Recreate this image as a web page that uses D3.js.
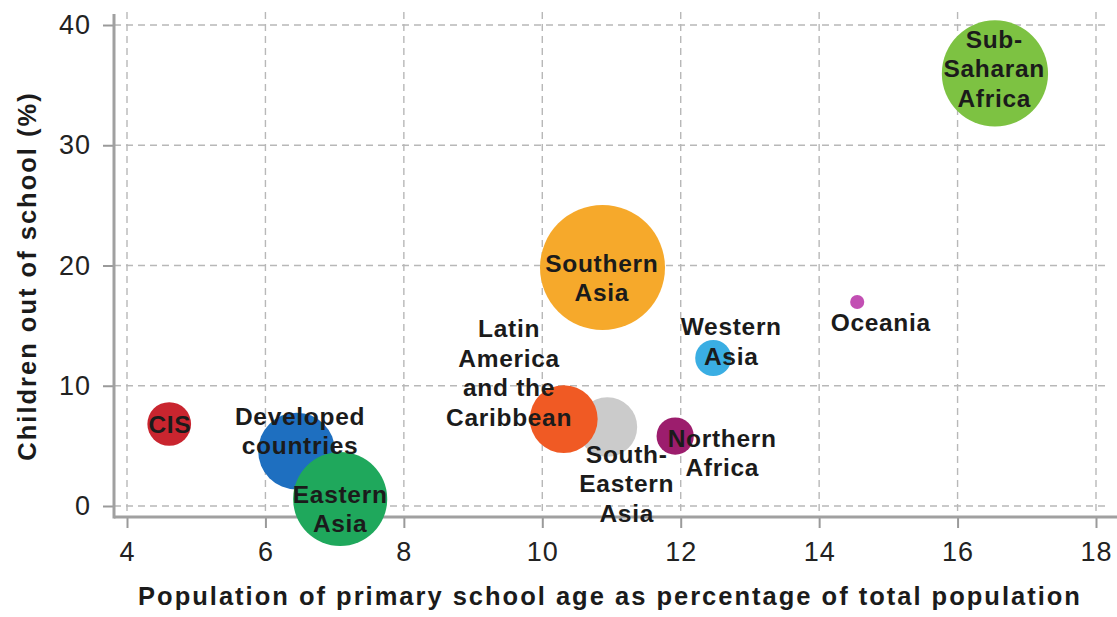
<!DOCTYPE html>
<html>
<head>
<meta charset="utf-8">
<script src="https://cdn.jsdelivr.net/npm/d3@7"></script>
<style>
  body { margin: 0; background: #fff; }
  text { font-family: "Liberation Sans", Arial, sans-serif; }
</style>
</head>
<body>
<div id="chart"></div>
<script>
// data (drawing order: back to front)
var regions = ["Sub-Saharan Africa", "Southern Asia", "CIS", "Developed countries", "Eastern Asia",
  "South-Eastern Asia", "Latin America and the Caribbean", "Western Asia", "Northern Africa", "Oceania"];
var popShare = [16.54, 10.87, 4.61, 6.45, 7.08, 10.94, 10.31, 12.47, 11.92, 14.55];   // x
var outOfSchool = [35.97, 19.83, 6.82, 4.57, 0.58, 6.57, 7.23, 12.31, 5.82, 16.96];  // y
var schoolAgePop = [130, 180, 22, 68, 102, 41, 53, 15, 16, 2.3];                    // bubble size
var colors = ["#7dc242", "#f6a92b", "#c9252f", "#1e6fc0", "#1fa85c",
  "#cbcbcb", "#f05a24", "#3aaee3", "#9c1d6d", "#c24fb3"];
var labelLines = [["Sub-", "Saharan", "Africa"], ["Southern", "Asia"], ["CIS"], ["Developed", "countries"],
  ["Eastern", "Asia"], ["South-", "Eastern", "Asia"], ["Latin", "America", "and the", "Caribbean"],
  ["Western", "Asia"], ["Northern", "Africa"], ["Oceania"]];
// where each label's first line sits, in data units
var labelX = [16.53, 10.86, 4.62, 6.50, 7.08, 11.22, 9.52, 12.73, 12.60, 14.89];
var labelY = [38.09, 19.46, 6.07, 6.74, 0.25, 3.58, 14.05, 14.22, 4.91, 14.55];
var xTicks = [4, 6, 8, 10, 12, 14, 16, 18];
var yTicks = [0, 10, 20, 30, 40];

var svgWidth = 1117;
var svgHeight = 617;
var axisX = 114, axisY = 517;

var svg = d3.select("#chart")
  .append("svg")
  .attr("width", svgWidth)
  .attr("height", svgHeight);

var x = d3.scaleLinear().domain([4, 18]).range([127, 1096]);
var y = d3.scaleLinear().domain([0, 40]).range([506, 25]);
var r = d3.scaleSqrt().domain([0, 180]).range([0, 62.5]);

// grid
var grid = svg.append("g").attr("stroke", "#b8b8b8").attr("stroke-width", 1.4)
  .attr("stroke-dasharray", "7,5");
grid.selectAll(".vg").data(xTicks).enter().append("line")
  .attr("x1", d => x(d)).attr("x2", d => x(d))
  .attr("y1", 12).attr("y2", axisY);
grid.selectAll(".hg").data(yTicks).enter().append("line")
  .attr("x1", axisX).attr("x2", 1110)
  .attr("y1", d => y(d)).attr("y2", d => y(d));

// axes
var bottomAxis = d3.axisBottom(x).tickValues(xTicks).tickSize(11).tickPadding(14);
var leftAxis = d3.axisLeft(y).tickValues(yTicks).tickSize(11).tickPadding(12);

var gx = svg.append("g").attr("transform", `translate(0, ${axisY})`).call(bottomAxis);
var gy = svg.append("g").attr("transform", `translate(${axisX}, 0)`).call(leftAxis);
[gx, gy].forEach(function(g) {
  g.select(".domain").remove();
  g.selectAll(".tick line").attr("stroke", "#9a9a9a").attr("stroke-width", 2);
  g.selectAll(".tick text")
    .attr("fill", "#222")
    .style("font-size", "27px")
    .style("letter-spacing", "1px");
});

svg.append("line").attr("x1", axisX).attr("x2", svgWidth).attr("y1", axisY).attr("y2", axisY)
  .attr("stroke", "#a0a0a0").attr("stroke-width", 3);
svg.append("line").attr("x1", axisX).attr("x2", axisX).attr("y1", 14).attr("y2", axisY + 1.5)
  .attr("stroke", "#a0a0a0").attr("stroke-width", 3);

// bubbles
var idx = d3.range(regions.length);
svg.append("g").selectAll("circle")
  .data(idx)
  .enter()
  .append("circle")
  .attr("cx", i => x(popShare[i]))
  .attr("cy", i => y(outOfSchool[i]))
  .attr("r", i => r(schoolAgePop[i]))
  .attr("fill", i => colors[i]);

// labels
var labels = svg.append("g");
idx.forEach(function(i) {
  var t = labels.append("text")
    .attr("text-anchor", "middle")
    .attr("fill", "#1b1b1b")
    .style("font-size", "24.5px")
    .style("font-weight", "bold")
    .style("letter-spacing", "0.7px");
  labelLines[i].forEach(function(line, k) {
    t.append("tspan")
      .attr("x", x(labelX[i]))
      .attr("y", y(labelY[i]) + k * 29.5)
      .text(line);
  });
});

// axis titles
svg.append("text")
  .attr("x", 610)
  .attr("y", 605)
  .attr("text-anchor", "middle")
  .attr("fill", "#1b1b1b")
  .style("font-size", "25.5px")
  .style("font-weight", "bold")
  .style("letter-spacing", "2px")
  .text("Population of primary school age as percentage of total population");

svg.append("text")
  .attr("transform", "translate(36, 276) rotate(-90)")
  .attr("text-anchor", "middle")
  .attr("fill", "#1b1b1b")
  .style("font-size", "25.5px")
  .style("font-weight", "bold")
  .style("letter-spacing", "2px")
  .text("Children out of school (%)");
</script>
</body>
</html>
